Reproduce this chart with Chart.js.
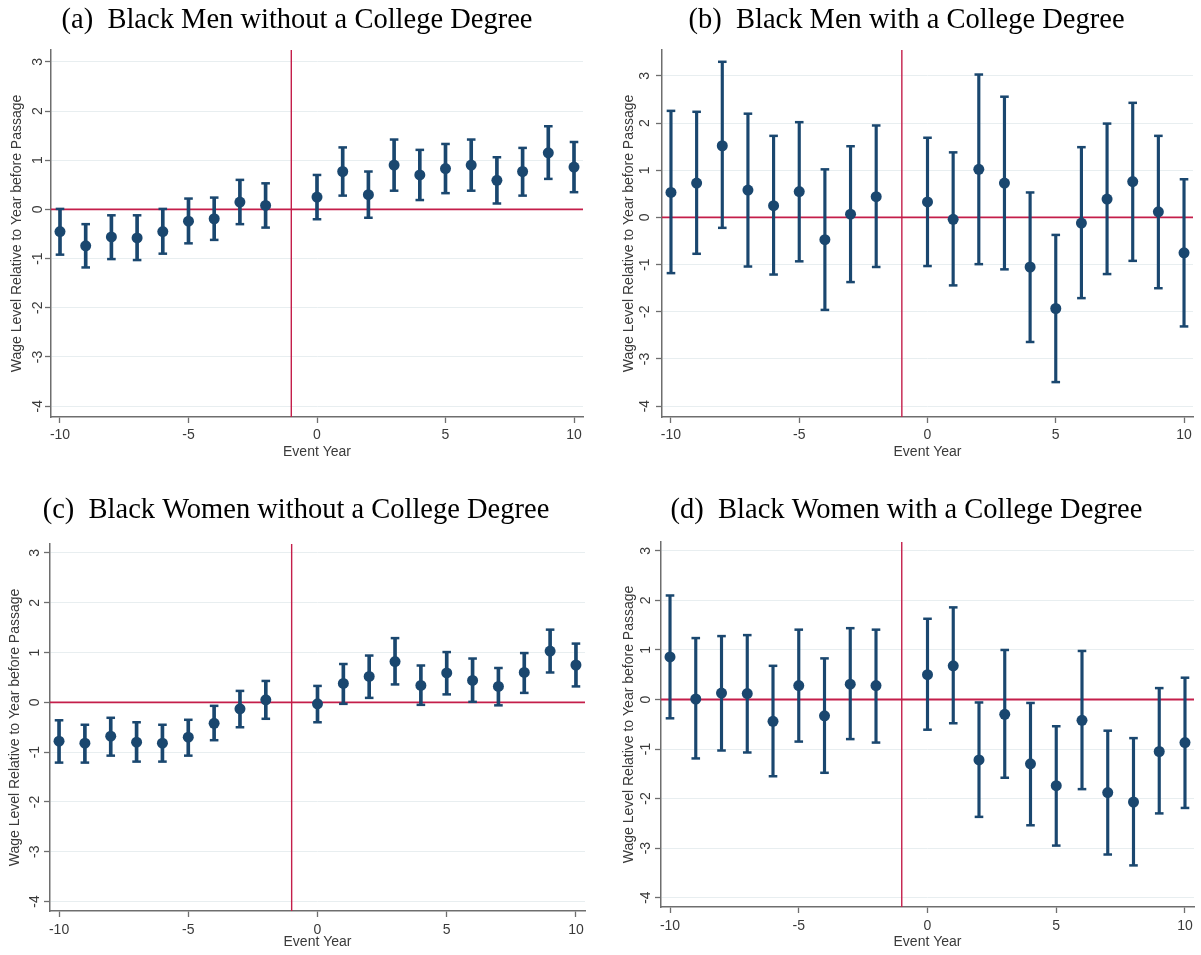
<!DOCTYPE html>
<html><head><meta charset="utf-8">
<script src="https://cdn.jsdelivr.net/npm/chart.js@4/dist/chart.umd.min.js"></script>
<style>
html,body{margin:0;padding:0;background:#fff}
body{width:1201px;height:955px;position:relative;overflow:hidden}
canvas{position:absolute}
</style></head><body>
<canvas id="ca" width="594" height="470" style="left:0;top:0"></canvas>
<canvas id="cb" width="589" height="470" style="left:612px;top:0"></canvas>
<canvas id="cc" width="592" height="475" style="left:0;top:480px"></canvas>
<canvas id="cd" width="589" height="475" style="left:612px;top:480px"></canvas>
<script>
// ---- data ----
const eventYears = [-10,-9,-8,-7,-6,-5,-4,-3,-2,0,1,2,3,4,5,6,7,8,9,10];
const xTickValues = [-10,-5,0,5,10];
const yTickValues = [-4,-3,-2,-1,0,1,2,3];
const refYear = -1;
const refLevel = 0;

const titleA = "(a)  Black Men without a College Degree";
const titleB = "(b)  Black Men with a College Degree";
const titleC = "(c)  Black Women without a College Degree";
const titleD = "(d)  Black Women with a College Degree";
const xTitle = "Event Year";
const yTitle = "Wage Level Relative to Year before Passage";

const coefA = [-0.45,-0.74,-0.56,-0.58,-0.45,-0.24,-0.19,0.15,0.08,0.25,0.77,0.30,0.90,0.70,0.83,0.90,0.59,0.77,1.15,0.86];
const hiA   = [0.01,-0.30,-0.12,-0.12,0.01,0.22,0.24,0.60,0.53,0.70,1.26,0.77,1.42,1.21,1.33,1.42,1.06,1.25,1.69,1.37];
const loA   = [-0.92,-1.18,-1.01,-1.03,-0.90,-0.69,-0.62,-0.30,-0.37,-0.20,0.28,-0.17,0.38,0.19,0.33,0.38,0.12,0.28,0.62,0.35];

const coefB = [0.53,0.73,1.52,0.58,0.25,0.55,-0.47,0.07,0.44,0.33,-0.04,1.02,0.73,-1.05,-1.93,-0.12,0.39,0.76,0.12,-0.75];
const hiB   = [2.26,2.24,3.30,2.20,1.73,2.02,1.02,1.51,1.95,1.69,1.38,3.03,2.56,0.53,-0.37,1.49,1.99,2.43,1.73,0.81];
const loB   = [-1.18,-0.77,-0.22,-1.04,-1.21,-0.93,-1.96,-1.37,-1.05,-1.03,-1.44,-0.99,-1.10,-2.64,-3.49,-1.71,-1.20,-0.92,-1.50,-2.31];

const coefC = [-0.78,-0.82,-0.68,-0.80,-0.82,-0.70,-0.42,-0.13,0.05,-0.03,0.38,0.52,0.82,0.34,0.59,0.44,0.32,0.60,1.03,0.75];
const hiC   = [-0.36,-0.45,-0.31,-0.40,-0.45,-0.35,-0.07,0.23,0.43,0.33,0.77,0.94,1.29,0.74,1.01,0.88,0.69,0.99,1.46,1.18];
const loC   = [-1.21,-1.21,-1.07,-1.19,-1.19,-1.07,-0.76,-0.50,-0.33,-0.40,-0.03,0.09,0.36,-0.05,0.16,0.01,-0.06,0.19,0.60,0.32];

const coefD = [0.86,0.01,0.13,0.12,-0.44,0.28,-0.33,0.31,0.28,0.50,0.68,-1.22,-0.30,-1.30,-1.74,-0.42,-1.88,-2.07,-1.05,-0.87];
const hiD   = [2.10,1.24,1.28,1.30,0.68,1.41,0.83,1.44,1.41,1.63,1.86,-0.06,1.00,-0.07,-0.54,0.98,-0.63,-0.78,0.23,0.44];
const loD   = [-0.38,-1.19,-1.03,-1.07,-1.55,-0.85,-1.48,-0.80,-0.87,-0.61,-0.48,-2.37,-1.58,-2.54,-2.95,-1.81,-3.13,-3.35,-2.30,-2.19];

// ---- styling ----
const NAVY = '#1a476f';
const RED = '#c41e4a';
const AXIS = '#6e6e6e';
const TXT = '#3a3a3a';
const SANS = "'Liberation Sans', Arial, sans-serif";
const SERIF = "'Liberation Serif', 'Times New Roman', serif";

const refLines = {
  id: 'refLines',
  beforeDatasetsDraw(chart) {
    const {ctx, chartArea: a, scales: {x, y}} = chart;
    ctx.save();
    ctx.strokeStyle = RED;
    const py = y.getPixelForValue(refLevel);
    ctx.lineWidth = 1.8;
    ctx.beginPath(); ctx.moveTo(a.left, py); ctx.lineTo(a.right, py); ctx.stroke();
    const px = x.getPixelForValue(refYear);
    ctx.lineWidth = 1.4;
    ctx.beginPath(); ctx.moveTo(px, a.top); ctx.lineTo(px, a.bottom); ctx.stroke();
    ctx.restore();
  }
};

function makePanel(id, title, coef, hi, lo, L) {
  const bars = eventYears.map((x, i) => ({x, y: [lo[i], hi[i]]}));
  const caps = eventYears.flatMap((x, i) => [{x, y: hi[i]}, {x, y: lo[i]}]);
  const pts = eventYears.map((x, i) => ({x, y: coef[i]}));
  new Chart(document.getElementById(id), {
    type: 'scatter',
    data: {
      datasets: [
        {type: 'scatter', data: pts, pointRadius: 5.5, pointBackgroundColor: NAVY, pointBorderWidth: 0, pointBorderColor: NAVY},
        {type: 'scatter', data: caps, pointStyle: 'line', pointRadius: 4.3, borderColor: NAVY, pointBorderColor: NAVY, pointBorderWidth: 2.5},
        {type: 'bar', data: bars, backgroundColor: NAVY, borderWidth: 0, barThickness: L.bar, grouped: false}
      ]
    },
    options: {
      responsive: false,
      devicePixelRatio: 1,
      animation: false,
      events: [],
      layout: {padding: 0},
      plugins: {
        legend: {display: false},
        tooltip: {enabled: false},
        title: {
          display: true, text: title, color: '#000',
          font: {family: SERIF, size: 28.5, weight: 'normal', lineHeight: 1.2},
          padding: {top: L.titleTop, bottom: L.titleBottom}
        }
      },
      scales: {
        x: {
          type: 'linear', min: -10.35, max: 10.35, offset: false,
          afterBuildTicks: s => { s.ticks = xTickValues.map(v => ({value: v})); },
          afterFit: s => { s.height = L.xh; },
          ticks: {color: TXT, font: {family: SANS, size: 14}, padding: L.xpad, maxRotation: 0, autoSkip: false},
          grid: {offset: false, drawOnChartArea: false, tickLength: 6, tickColor: AXIS, tickWidth: 1.3},
          border: {display: true, color: AXIS, width: 1.5},
          title: {display: true, text: xTitle, color: TXT, font: {family: SANS, size: 14, lineHeight: 1.2}, padding: {top: 0, bottom: L.xtPad}}
        },
        y: {
          type: 'linear', min: L.ymin, max: L.ymax,
          afterBuildTicks: s => { s.ticks = yTickValues.map(v => ({value: v})); },
          afterFit: s => { s.width = L.yw; },
          ticks: {color: TXT, font: {family: SANS, size: 14}, padding: L.ypad, minRotation: 90, maxRotation: 90, crossAlign: 'center', autoSkip: false},
          grid: {color: '#e8eef0', lineWidth: 1, tickLength: 6, tickColor: AXIS, tickWidth: 1.3},
          border: {display: true, color: AXIS, width: 1.5},
          title: {display: true, text: yTitle, color: TXT, font: {family: SANS, size: 14, lineHeight: 1.2}, padding: {top: L.ytPad, bottom: 0}}
        },
        gap: {
          type: 'linear', position: 'right', display: true,
          afterFit: s => { s.width = L.rw; },
          ticks: {display: false},
          grid: {display: false, drawTicks: false},
          border: {display: false}
        }
      }
    },
    plugins: [refLines]
  });
}

makePanel('ca', titleA, coefA, hiA, loA, {titleTop: 3.8, titleBottom: 12, yw: 51, rw: 11, xh: 53, ymin: -4.22, ymax: 3.24, ypad: 1, ytPad: 8.6, xpad: 4, xtPad: 9.6, bar: 3});
makePanel('cb', titleB, coefB, hiB, loB, {titleTop: 3.8, titleBottom: 12, yw: 50, rw: 8, xh: 53, ymin: -4.23, ymax: 3.55, ypad: 5, ytPad: 8.6, xpad: 4, xtPad: 9.6, bar: 2.5});
makePanel('cc', titleC, coefC, hiC, loC, {titleTop: 13.8, titleBottom: 16, yw: 50, rw: 7, xh: 44, ymin: -4.19, ymax: 3.18, ypad: 2.8, ytPad: 6.6, xpad: 5, xtPad: 4.6, bar: 3});
makePanel('cd', titleD, coefD, hiD, loD, {titleTop: 13.8, titleBottom: 14, yw: 49, rw: 7, xh: 48, ymin: -4.19, ymax: 3.18, ypad: 2.8, ytPad: 8.6, xpad: 5, xtPad: 4.9, bar: 2.5});
</script>
</body></html>
